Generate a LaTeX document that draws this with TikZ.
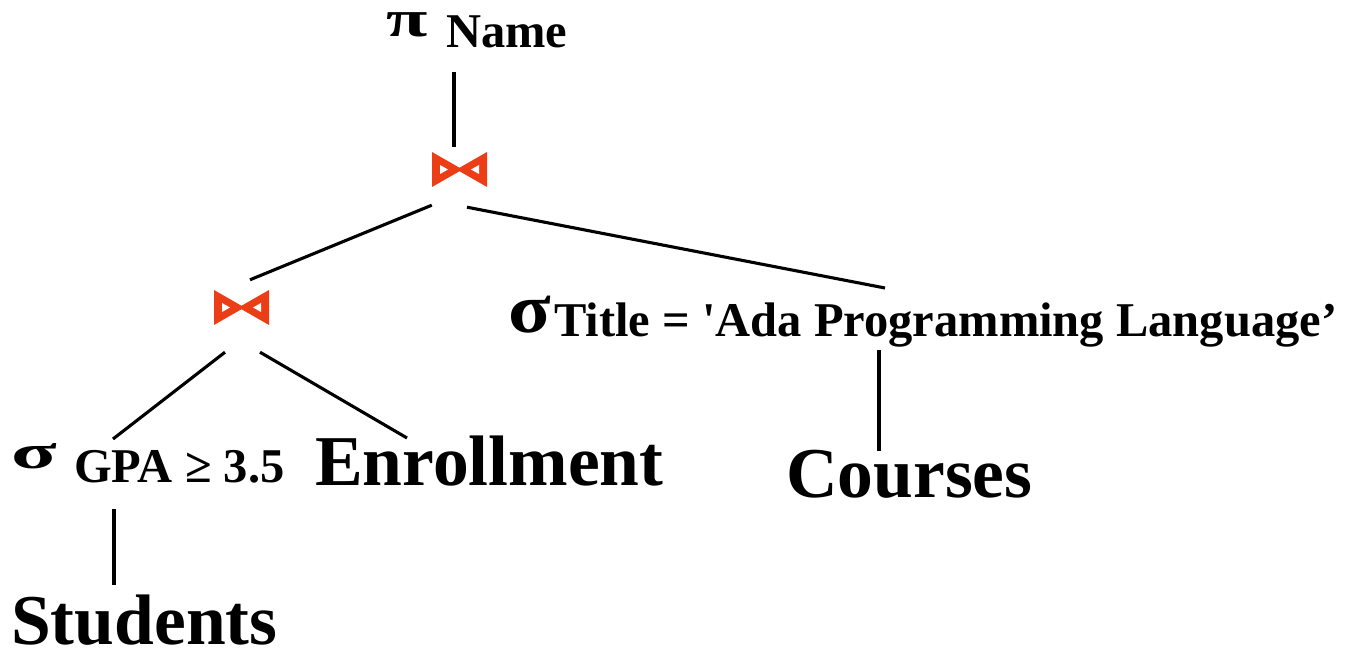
\documentclass[tikz,border=0pt]{standalone}
\usepackage{fontspec}
\newfontfamily\tms{Liberation Serif}[Ligatures=TeXOff]
\definecolor{joinred}{RGB}{236,62,22}
\tikzset{
  x=1pt, y=1pt,
  lbl/.style={inner sep=0pt, anchor=base west, font=\tms\bfseries\fontsize{48.5}{50}\selectfont},
  rel/.style={inner sep=0pt, anchor=base west, font=\tms\bfseries\fontsize{71.5}{72}\selectfont},
  greek/.style={inner sep=0pt, anchor=base west, font=\tms\bfseries\fontsize{#1}{#1}\selectfont},
  edge/.style={line width=3.1pt},
  joinbox/.style={inner sep=0pt, minimum width=55pt, minimum height=35pt},
  bowtie/.pic={
    \fill[joinred] (-27.5,17.5) -- (-27.5,-17.5) -- (3,0) -- cycle;
    \fill[joinred] (27.5,17.5) -- (27.5,-17.5) -- (-3,0) -- cycle;
    \fill[white] (-19.5,4.5) -- (-19.5,-4.5) -- (-11.5,0) -- cycle;
    \fill[white] (19.5,4.5) -- (19.5,-4.5) -- (11.5,0) -- cycle;
  }
}
\begin{document}
\begin{tikzpicture}
\fill[white] (0,0) rectangle (1353,653);
\useasboundingbox (0,0) rectangle (1353,653);

% projection
\node[greek=52] (pi) at (386,616) {\scalebox{1.45}[1]{π}};
\node[lbl] (name) at (446,605) {Name};

% joins
\node[joinbox] (j1) at (459.5,483.5) {};
\pic at (j1) {bowtie};
\node[joinbox] (j2) at (241.5,345.5) {};
\pic at (j2) {bowtie};

% selection on courses
\node[greek=70] (sigT) at (508,320) {\scalebox{1.12}[1]{σ}};
\node[lbl] (title) at (554,316) {Title = 'Ada Programming Language’};

% selection on students
\node[greek=48] (sigG) at (11,184) {\scalebox{1.75}[1]{σ}};
\node[lbl] (gpa) at (74,170) {GPA ≥ 3.5};

% base relations
\node[rel] (enroll) at (315,167) {Enrollment};
\node[rel] (courses) at (786,155) {Courses};
\node[rel] (students) at (11,8) {Students};

% tree edges
\draw[edge] ([shift={(8pt,-24pt)}]name.base west) -- ([shift={(-5.5pt,5pt)}]j1.north);
\draw[edge] ([shift={(0pt,-18pt)}]j1.south west) -- ([shift={(8.5pt,10pt)}]j2.north);
\draw[edge] ([shift={(7.5pt,-20pt)}]j1.south) -- ([shift={(331pt,49pt)}]title.base west);
\draw[edge] ([shift={(-16.5pt,-27pt)}]j2.south) -- ([shift={(39pt,44pt)}]gpa.base west);
\draw[edge] ([shift={(18.5pt,-27pt)}]j2.south) -- ([shift={(92pt,48pt)}]enroll.base west);
\draw[edge] ([shift={(325pt,-13pt)}]title.base west) -- ([shift={(93pt,47pt)}]courses.base west);
\draw[edge] ([shift={(40pt,-26pt)}]gpa.base west) -- ([shift={(103pt,60pt)}]students.base west);
\end{tikzpicture}
\end{document}
